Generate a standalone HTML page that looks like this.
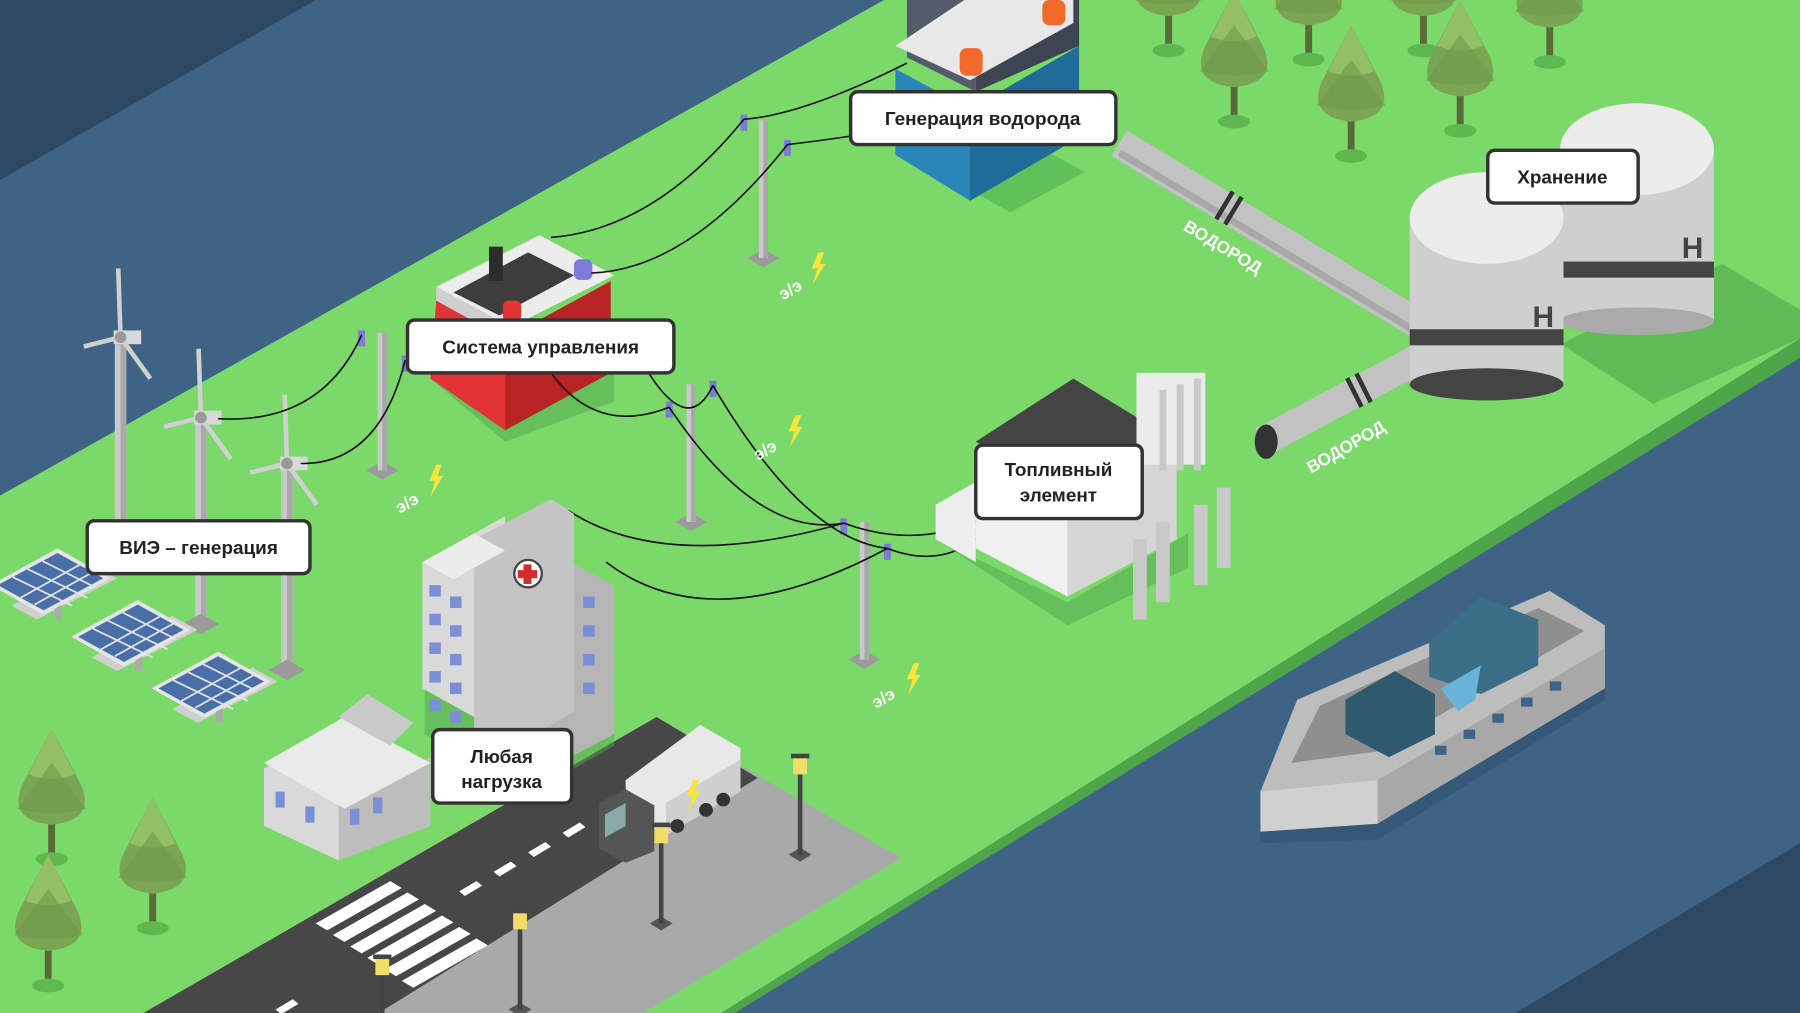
<!DOCTYPE html>
<html><head><meta charset="utf-8"><style>
html,body{margin:0;padding:0;width:1800px;height:1013px;overflow:hidden;background:#3f6384}
svg{display:block}
text{font-family:"Liberation Sans",sans-serif}
</style></head><body>
<svg width="1800" height="1013" viewBox="0 0 1568 883" preserveAspectRatio="none" xmlns="http://www.w3.org/2000/svg">
<defs>
<g id="tree">
<rect x="-3" y="0" width="6" height="40" fill="#5a6b3a"/>
<ellipse cx="0" cy="44" rx="14" ry="6" fill="#5fb84f"/>
<path d="M0,-70 L-26,-20 Q-38,10 0,14 Q38,10 26,-20 Z" fill="#7aa654"/>
<path d="M0,-70 L-20,-30 Q0,-22 20,-30 Z" fill="#93bf66"/>
<path d="M0,-40 L-30,0 Q0,8 30,0 Z" fill="#6e9a4b" opacity=".6"/>
</g>
<g id="pole">
<polygon points="-14,0 0,-8 14,0 0,8" fill="#9a9a9a"/>
<rect x="-4" y="-120" width="8" height="120" fill="#c8c8c8"/>
<rect x="0" y="-120" width="4" height="120" fill="#a8a8a8"/>
</g>
<g id="turb">
<rect x="-5" y="-170" width="10" height="170" fill="#c9c9c9"/>
<rect x="0" y="-170" width="5" height="170" fill="#a9a9a9"/>
<polygon points="-16,4 0,-5 16,4 0,13" fill="#9a9a9a"/>
<rect x="-6" y="-182" width="24" height="12" fill="#d8d8d8"/>
<line x1="0" y1="-176" x2="-2" y2="-236" stroke="#d0d0d0" stroke-width="4"/>
<line x1="0" y1="-176" x2="-32" y2="-168" stroke="#d0d0d0" stroke-width="4"/>
<line x1="0" y1="-176" x2="26" y2="-140" stroke="#d0d0d0" stroke-width="4"/>
<circle cx="0" cy="-176" r="5" fill="#999"/>
</g>
<g id="solar">
<polygon points="-30,28 40,-8 62,4 -8,40" fill="#d0d0d0"/>
<rect x="8" y="20" width="6" height="20" fill="#aaa"/>
<polygon points="-48,10 10,-22 56,4 -2,36" fill="#e5e5e5"/>
<polygon points="-42,10 10,-18 50,4 -2,32" fill="#4a6fa8"/>
<path d="M-29,3 L23,28 M-16,-4 L36,21 M-3,-11 L43,12 M-22,21 L30,-8 M-10,27 L42,-2" stroke="#e5e5e5" stroke-width="1.5"/>
</g>
<g id="lamp">
<polygon points="-10,0 0,-6 10,0 0,6" fill="#555"/>
<rect x="-2" y="-70" width="4" height="70" fill="#444"/>
<rect x="-6" y="-84" width="12" height="14" fill="#f2dd6a"/>
<rect x="-8" y="-88" width="16" height="4" fill="#444"/>
</g>
<g id="bolt"><path d="M0,0 L-6,14 L-1,14 L-5,28 L6,10 L1,10 L5,0 Z" fill="#f5e63a"/></g>
</defs>

<!-- water & corners -->
<rect width="1568" height="883" fill="#3f6384"/>
<polygon points="0,0 275,0 0,157" fill="#2d4863"/>
<polygon points="1568,735 1568,883 1320,883" fill="#2d4863"/>

<!-- land -->
<polygon points="0,440 775,0 1568,0 1568,312 640,883 0,883" fill="#4fa64a"/>
<polygon points="0,432 770,0 1568,0 1568,295 628,883 0,883" fill="#7bd96a"/>

<!-- road area -->
<polygon points="125,883 572,625 785,748 560,883" fill="#a9a9a9"/>
<polygon points="125,883 572,625 660,678 330,883" fill="#474747"/>
<g fill="#fff">
<polygon points="275,805 340,768 350,774 285,811"/><polygon points="290,815 355,778 365,784 300,821"/><polygon points="305,825 370,788 380,794 315,831"/><polygon points="320,835 385,798 395,804 330,841"/><polygon points="335,845 400,808 410,814 345,851"/><polygon points="350,855 415,818 425,824 360,861"/>
<polygon points="400,777 415,768 420,772 405,781"/><polygon points="430,760 445,751 450,755 435,764"/><polygon points="460,743 475,734 480,738 465,747"/><polygon points="490,726 505,717 510,721 495,730"/>
<polygon points="240,880 255,871 260,875 245,884"/><polygon points="210,895 225,886 230,890 215,899"/>
</g>

<!-- trees -->
<use href="#tree" x="1018" y="0"/><use href="#tree" x="1140" y="8"/><use href="#tree" x="1240" y="0"/><use href="#tree" x="1350" y="10"/>
<use href="#tree" x="1075" y="62"/><use href="#tree" x="1177" y="92"/><use href="#tree" x="1272" y="70"/>
<use href="#tree" x="45" y="705"/><use href="#tree" x="133" y="765"/><use href="#tree" x="42" y="815"/>

<!-- electrolyzer -->
<polygon points="780,130 845,95 945,150 880,185" fill="#4aa84a" opacity=".5"/>
<polygon points="780,135 780,60 845,95 845,175" fill="#2a85b8"/>
<polygon points="845,95 940,40 940,120 845,175" fill="#1f6c98"/>
<polygon points="790,50 790,0 850,0 850,80" fill="#555b6b"/>
<polygon points="850,80 850,0 940,0 940,40" fill="#3f4452"/>
<polygon points="780,40 840,0 935,0 935,20 845,70 780,40" fill="#e8e8e8"/>
<rect x="836" y="42" width="20" height="24" rx="6" fill="#f26a2a"/>
<rect x="908" y="0" width="20" height="22" rx="6" fill="#f26a2a"/>

<!-- pipes -->
<line x1="975" y1="125" x2="1235" y2="282" stroke="#c2c2c2" stroke-width="26"/>
<line x1="975" y1="125" x2="1235" y2="282" stroke="#a8a8a8" stroke-width="6" transform="translate(0,8)"/>
<line x1="1065" y1="178" x2="1080" y2="187" stroke="#333" stroke-width="28" stroke-dasharray="4 5"/>
<line x1="1100" y1="385" x2="1250" y2="305" stroke="#c2c2c2" stroke-width="26"/>
<line x1="1178" y1="343" x2="1192" y2="336" stroke="#333" stroke-width="28" stroke-dasharray="4 5"/>
<ellipse cx="1103" cy="385" rx="10" ry="15" fill="#333"/>
<text x="0" y="0" font-size="15" font-weight="bold" fill="#fff" transform="translate(1030,200) rotate(31)">ВОДОРОД</text>
<text x="0" y="0" font-size="15" font-weight="bold" fill="#fff" transform="translate(1142,413) rotate(-30)">ВОДОРОД</text>

<!-- tanks -->
<polygon points="1360,300 1500,230 1568,270 1568,295 1440,352" fill="#4fa64a" opacity=".6"/>
<rect x="1360" y="130" width="133" height="150" fill="#cfcfcf"/>
<rect x="1360" y="228" width="133" height="14" fill="#444"/>
<ellipse cx="1426" cy="280" rx="67" ry="12" fill="#aaa"/>
<ellipse cx="1426" cy="130" rx="67" ry="40" fill="#ececec"/>
<text x="1465" y="225" font-size="26" font-weight="bold" fill="#444">H</text>
<rect x="1228" y="190" width="134" height="145" fill="#cfcfcf"/>
<rect x="1228" y="287" width="134" height="14" fill="#444"/>
<ellipse cx="1295" cy="335" rx="67" ry="14" fill="#444"/>
<ellipse cx="1295" cy="190" rx="67" ry="40" fill="#ececec"/>
<text x="1335" y="285" font-size="26" font-weight="bold" fill="#444">H</text>

<!-- battery -->
<polygon points="375,330 440,375 535,320 535,350 440,385" fill="#4fa64a" opacity=".5"/>
<polygon points="375,330 380,262 440,295 440,375" fill="#e23434"/>
<polygon points="440,295 532,245 532,325 440,375" fill="#b82424"/>
<polygon points="380,250 470,205 535,240 445,285" fill="#ececec"/>
<polygon points="380,250 445,285 445,298 380,262" fill="#cfcfcf"/>
<polygon points="395,255 460,220 500,240 435,275" fill="#3d3d3d"/>
<rect x="426" y="215" width="12" height="30" fill="#2d2d2d"/>
<rect x="438" y="262" width="16" height="18" rx="5" fill="#e23434"/>
<rect x="500" y="226" width="16" height="18" rx="5" fill="#7d7ad8"/>

<!-- wind turbines & solar -->
<use href="#turb" x="105" y="470"/><use href="#turb" x="175" y="540"/><use href="#turb" x="250" y="580"/>
<use href="#solar" x="40" y="500"/><use href="#solar" x="110" y="545"/><use href="#solar" x="180" y="590"/>

<!-- poles -->
<use href="#pole" x="665" y="225"/><use href="#pole" x="333" y="410"/><use href="#pole" x="602" y="455"/><use href="#pole" x="753" y="575"/>
<rect x="645" y="100" width="6" height="14" fill="#7d7ad8"/><rect x="683" y="122" width="6" height="14" fill="#7d7ad8"/>
<rect x="312" y="288" width="6" height="14" fill="#7d7ad8"/><rect x="350" y="310" width="6" height="14" fill="#7d7ad8"/>
<rect x="580" y="350" width="6" height="14" fill="#7d7ad8"/><rect x="618" y="332" width="6" height="14" fill="#7d7ad8"/>
<rect x="732" y="452" width="6" height="14" fill="#7d7ad8"/><rect x="770" y="474" width="6" height="14" fill="#7d7ad8"/>

<!-- wires -->
<g fill="none" stroke="#111" stroke-width="1.4">
<path d="M648,104 Q700,100 790,55"/><path d="M686,126 Q720,122 745,118"/>
<path d="M648,104 Q570,200 480,207"/><path d="M686,126 Q600,235 515,238"/>
<path d="M315,292 Q280,370 190,365"/><path d="M353,314 Q330,405 262,404"/>
<path d="M480,325 Q520,380 583,355"/><path d="M565,325 Q600,380 621,336"/>
<path d="M583,355 Q660,470 735,456"/><path d="M621,336 Q700,470 773,478"/>
<path d="M495,445 Q580,500 735,456"/><path d="M528,490 Q620,560 773,478"/>
<path d="M735,456 Q800,480 860,450"/><path d="M773,478 Q830,500 868,452"/>
</g>

<!-- hospital -->
<polygon points="370,500 440,460 535,515 535,650 465,690 370,640" fill="#4fa64a" opacity=".5"/>
<polygon points="368,490 440,450 440,640 368,600" fill="#d9d9d9"/>
<polygon points="440,460 535,510 535,640 440,690" fill="#b5b5b5"/>
<polygon points="413,470 480,435 500,448 500,620 440,655 413,640" fill="#c4c4c4"/>
<polygon points="368,490 413,465 440,480 395,505" fill="#ececec"/>
<circle cx="460" cy="500" r="12" fill="#fff" stroke="#444" stroke-width="2"/>
<path d="M456,492h7v5h5v7h-5v5h-7v-5h-5v-7h5z" fill="#d42b2b"/>
<g fill="#7c8fd6">
<rect x="374" y="510" width="10" height="10"/><rect x="374" y="535" width="10" height="10"/><rect x="374" y="560" width="10" height="10"/><rect x="374" y="585" width="10" height="10"/><rect x="374" y="610" width="10" height="10"/>
<rect x="392" y="520" width="10" height="10"/><rect x="392" y="545" width="10" height="10"/><rect x="392" y="570" width="10" height="10"/><rect x="392" y="595" width="10" height="10"/><rect x="392" y="620" width="10" height="10"/>
<rect x="508" y="520" width="10" height="10"/><rect x="508" y="545" width="10" height="10"/><rect x="508" y="570" width="10" height="10"/><rect x="508" y="595" width="10" height="10"/>
</g>

<!-- house -->
<polygon points="230,670 300,630 375,670 375,720 295,750 230,720" fill="#d9d9d9"/>
<polygon points="295,700 375,660 375,720 295,750" fill="#bdbdbd"/>
<polygon points="230,665 300,625 375,665 300,705" fill="#eaeaea"/>
<polygon points="295,625 320,605 360,630 340,650" fill="#c9c9c9"/>
<rect x="240" y="690" width="8" height="14" fill="#7c8fd6"/><rect x="266" y="703" width="8" height="14" fill="#7c8fd6"/><rect x="305" y="705" width="8" height="14" fill="#7c8fd6"/><rect x="325" y="695" width="8" height="14" fill="#7c8fd6"/>

<!-- truck -->
<polygon points="545,680 610,632 645,652 645,690 580,728 545,708" fill="#e8e8e8"/>
<polygon points="580,700 645,662 645,690 580,728" fill="#cfcfcf"/>
<polygon points="522,700 545,688 570,702 570,742 545,752 522,740" fill="#555"/>
<polygon points="527,710 545,700 545,720 527,730" fill="#8aa"/>
<circle cx="590" cy="720" r="6" fill="#333"/><circle cx="615" cy="706" r="6" fill="#333"/><circle cx="630" cy="697" r="6" fill="#333"/>
<use href="#bolt" x="604" y="680" transform="scale(1)"/>

<!-- lamps -->
<use href="#lamp" x="697" y="745"/><use href="#lamp" x="576" y="805"/><use href="#lamp" x="453" y="880"/><use href="#lamp" x="333" y="920"/>

<!-- fuel cell -->
<polygon points="815,470 930,525 1035,465 1035,495 930,545" fill="#4fa64a" opacity=".5"/>
<polygon points="850,385 935,330 1025,385 935,430" fill="#444"/>
<polygon points="815,440 850,420 850,490 815,470" fill="#eee"/>
<polygon points="850,390 930,435 930,520 850,478" fill="#f0f0f0"/>
<polygon points="930,435 1025,385 1025,470 930,520" fill="#d5d5d5"/>
<rect x="990" y="325" width="60" height="80" fill="#eaeaea"/>
<g fill="#c9c9c9">
<rect x="987" y="470" width="12" height="70"/><rect x="1007" y="455" width="12" height="70"/><rect x="1040" y="440" width="12" height="70"/><rect x="1060" y="425" width="12" height="70"/>
<rect x="1010" y="340" width="6" height="70"/><rect x="1025" y="335" width="6" height="75"/><rect x="1040" y="330" width="6" height="80"/>
</g>

<!-- ship -->
<polygon points="1098,690 1130,610 1350,515 1398,545 1398,600 1200,720 1098,725" fill="#bdbdbd"/>
<polygon points="1200,680 1398,565 1398,600 1200,718" fill="#a8a8a8"/>
<polygon points="1098,690 1200,680 1200,718 1098,725" fill="#d0d0d0"/>
<polygon points="1125,665 1150,615 1340,530 1380,550 1200,655" fill="#8f8f8f"/>
<polygon points="1172,610 1215,585 1250,605 1250,640 1210,660 1172,640" fill="#2f5a6e"/>
<polygon points="1245,560 1290,520 1340,540 1340,580 1290,605 1245,590" fill="#3b6f87"/>
<polygon points="1255,600 1290,580 1285,610 1270,620" fill="#6ab3d8"/>
<g fill="#3f6384"><rect x="1250" y="650" width="10" height="8"/><rect x="1275" y="636" width="10" height="8"/><rect x="1300" y="622" width="10" height="8"/><rect x="1325" y="608" width="10" height="8"/><rect x="1350" y="594" width="10" height="8"/></g>
<polygon points="1098,725 1200,718 1398,600 1398,610 1200,732 1098,735" fill="#355877"/>

<!-- э/э labels -->
<g font-size="15" font-weight="bold" fill="#fff">
<text transform="translate(682,262) rotate(-30)">э/э</text>
<text transform="translate(348,448) rotate(-30)">э/э</text>
<text transform="translate(660,402) rotate(-30)">э/э</text>
<text transform="translate(763,618) rotate(-30)">э/э</text>
</g>
<use href="#bolt" x="713" y="220"/><use href="#bolt" x="380" y="405"/><use href="#bolt" x="693" y="362"/><use href="#bolt" x="796" y="578"/>

<!-- labels -->
<g font-size="16.5" font-weight="bold" fill="#222" text-anchor="middle">
<rect x="741" y="80" width="231" height="46" rx="6" fill="#fff" stroke="#333" stroke-width="3"/><text x="856" y="109">Генерация водорода</text>
<rect x="355" y="279" width="232" height="46" rx="6" fill="#fff" stroke="#333" stroke-width="3"/><text x="471" y="308">Система управления</text>
<rect x="1296" y="131" width="131" height="46" rx="6" fill="#fff" stroke="#333" stroke-width="3"/><text x="1361" y="160">Хранение</text>
<rect x="850" y="388" width="145" height="64" rx="6" fill="#fff" stroke="#333" stroke-width="3"/><text x="922" y="415">Топливный</text><text x="922" y="437">элемент</text>
<rect x="76" y="454" width="194" height="46" rx="6" fill="#fff" stroke="#333" stroke-width="3"/><text x="173" y="483">ВИЭ – генерация</text>
<rect x="377" y="636" width="121" height="64" rx="6" fill="#fff" stroke="#333" stroke-width="3"/><text x="437" y="665">Любая</text><text x="437" y="687">нагрузка</text>
</g>
</svg>
</body></html>
